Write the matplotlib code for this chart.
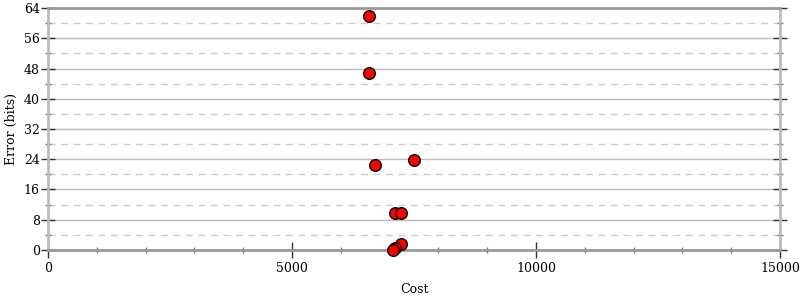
import numpy as np
import matplotlib.pyplot as plt
from matplotlib.ticker import MultipleLocator

plt.rcParams['font.family'] = 'DejaVu Serif'

# cost / error pairs
cost = [6580, 6580, 6700, 7500, 7110, 7240, 7240, 7110, 7070]
error = [61.9, 46.8, 22.4, 23.7, 9.7, 9.7, 1.7, 0.4, 0.0]

fig = plt.figure(figsize=(8, 3), dpi=100)
ax = fig.add_axes([0.06, 0.1667, 0.915, 0.8066])

ax.set_xlim(0, 15000)
ax.set_ylim(0, 64)

ax.xaxis.set_major_locator(MultipleLocator(5000))
ax.xaxis.set_minor_locator(MultipleLocator(1000))
ax.yaxis.set_major_locator(MultipleLocator(8))
ax.yaxis.set_minor_locator(MultipleLocator(4))

# horizontal grid: solid on major, dashed on minor
for v in np.arange(8, 64, 8):
    ax.axhline(v, color='#bbbbbb', lw=1, zorder=0)
for v in np.arange(4, 64, 8):
    ax.axhline(v, color='#cccccc', lw=1, ls=(0, (5, 4)), zorder=0)

for s in ['left', 'right']:
    ax.spines[s].set_color('#bbbbbb')
    ax.spines[s].set_linewidth(2)
for s in ['top', 'bottom']:
    ax.spines[s].set_color('#999999')
    ax.spines[s].set_linewidth(2)

ax.tick_params(axis='x', which='major', direction='inout', length=11, width=1,
               color='#333333', labelsize=9, pad=3)
ax.tick_params(axis='x', which='minor', direction='inout', length=5, width=1,
               color='#777777')
ax.tick_params(axis='y', which='major', direction='inout', length=10, width=1,
               color='#333333', labelsize=9, right=True, pad=1)
ax.tick_params(axis='y', which='minor', direction='inout', length=5, width=1,
               color='#777777', right=True)

ax.scatter(cost, error, s=70, c='red', edgecolors='black', linewidths=1,
           zorder=5, clip_on=False)

ax.set_xlabel('Cost', fontsize=9, labelpad=6)
ax.set_ylabel('Error (bits)', fontsize=9, labelpad=4)

fig.savefig('out.png', dpi=100)
